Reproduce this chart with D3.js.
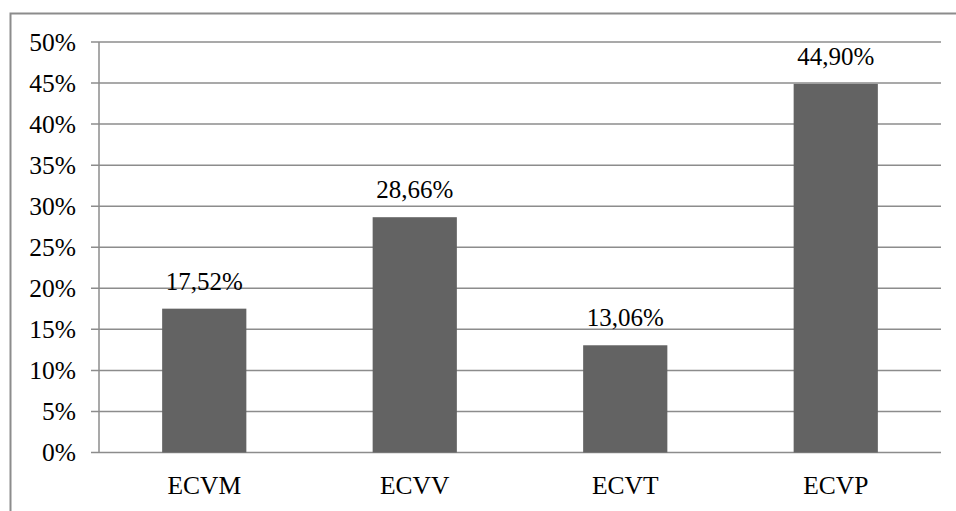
<!DOCTYPE html>
<html><head><meta charset="utf-8">
<script src="https://cdn.jsdelivr.net/npm/d3@7"></script>
<style>body{margin:0;background:#fff}svg{display:block}</style>
</head><body>
<svg id="c" width="956" height="511"></svg>
<script>
const categories = ["ECVM","ECVV","ECVT","ECVP"];
const values = [17.52, 28.66, 13.06, 44.90];
const valueLabels = ["17,52%","28,66%","13,06%","44,90%"];
const yTicks = [0,5,10,15,20,25,30,35,40,45,50];

(function(){
const svg = d3.select("#c");
const pLeft = 99, pRight = 941, pTop = 42, pBottom = 452.5;
const grid = "#8c8c8c";
const font = "Liberation Serif";

svg.append("rect").attr("x",10.5).attr("y",13.5).attr("width",960).attr("height",520)
  .attr("fill","none").attr("stroke",grid).attr("stroke-width",2);

const x = d3.scaleBand().domain(categories).range([pLeft,pRight]).paddingInner(0.6).paddingOuter(0.3);
const y = d3.scaleLinear().domain([0,50]).range([pBottom,pTop]);

svg.append("g").selectAll("line").data(yTicks).join("line")
  .attr("x1",91).attr("x2",pRight).attr("y1",d=>y(d)).attr("y2",d=>y(d))
  .attr("stroke",grid).attr("stroke-width",1.5);
svg.append("line").attr("x1",pLeft).attr("x2",pLeft).attr("y1",pTop).attr("y2",pBottom)
  .attr("stroke",grid).attr("stroke-width",1.5);

svg.append("g").selectAll("text").data(yTicks).join("text")
  .attr("x",76).attr("y",d=>y(d)).attr("dy","0.34em").attr("text-anchor","end")
  .attr("font-family",font).attr("font-size",25.5).attr("fill","#000").text(d=>d+"%");

svg.append("g").selectAll("rect").data(values).join("rect")
  .attr("x",(d,i)=>x(categories[i])).attr("width",x.bandwidth())
  .attr("y",d=>y(d)).attr("height",d=>pBottom-y(d)).attr("fill","#636363");

svg.append("g").selectAll("text").data(values).join("text")
  .attr("x",(d,i)=>x(categories[i])+x.bandwidth()/2).attr("y",d=>y(d)-19)
  .attr("text-anchor","middle").attr("font-family",font).attr("font-size",25)
  .attr("fill","#000").text((d,i)=>valueLabels[i]);

svg.append("g").selectAll("text").data(categories).join("text")
  .attr("x",d=>x(d)+x.bandwidth()/2).attr("y",493.5)
  .attr("text-anchor","middle").attr("font-family",font).attr("font-size",25.5)
  .attr("fill","#000").text(d=>d);
})();
</script>
</body></html>
